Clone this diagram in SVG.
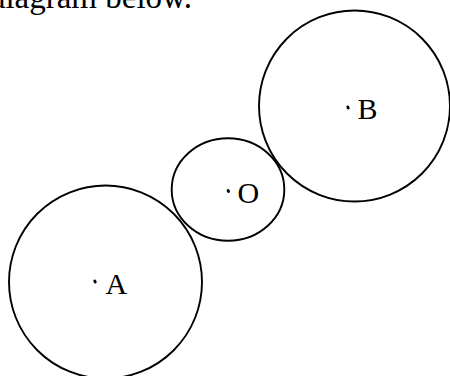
<svg xmlns="http://www.w3.org/2000/svg" width="450" height="376" viewBox="0 0 450 376">
<style>
.c{fill:none;stroke:#000;stroke-width:1.9}
.t{font-family:"Liberation Serif","Times New Roman",serif;font-size:30px;fill:#000}
.d{fill:#000}
</style>
<rect width="450" height="376" fill="#fff"/>
<text class="t" x="192" y="8" text-anchor="end" style="font-size:33px">diagram below.</text>
<g id="circleA">
<circle class="c" cx="105.5" cy="282" r="96.5"/>
<ellipse class="d" cx="95" cy="281.5" rx="1.5" ry="2" transform="rotate(-30 95 281.5)"/>
<text class="t" x="105.5" y="293.5">A</text>
</g>
<g id="circleO">
<ellipse class="c" cx="228" cy="189.5" rx="56.3" ry="51.3"/>
<ellipse class="d" cx="228.3" cy="191" rx="1.5" ry="2" transform="rotate(-30 228.3 191)"/>
<text class="t" x="237.5" y="202.5">O</text>
</g>
<g id="circleB">
<circle class="c" cx="354.5" cy="106" r="95.5"/>
<ellipse class="d" cx="348" cy="107.5" rx="1.5" ry="2" transform="rotate(-30 348 107.5)"/>
<text class="t" x="357.5" y="118.5">B</text>
</g>
<g id="connectors"/>
</svg>
